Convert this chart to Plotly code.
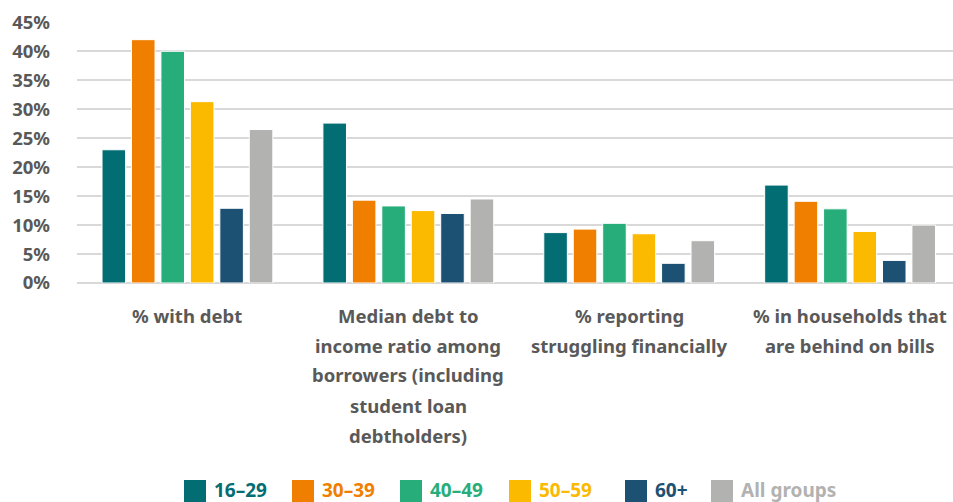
import plotly.graph_objects as go

# Survey categories (line breaks mark how each label wraps)
categories = [
    "% with debt",
    "Median debt to<br>income ratio among<br>borrowers (including<br>student loan<br>debtholders)",
    "% reporting<br>struggling financially",
    "% in households that<br>are behind on bills",
]

age_groups = ["16\u201329", "30\u201339", "40\u201349", "50\u201359", "60+", "All groups"]

# Percent values per age group, one entry per category
values_16_29 = [23.0, 27.6, 8.7, 16.9]
values_30_39 = [42.0, 14.3, 9.3, 14.1]
values_40_49 = [40.0, 13.3, 10.3, 12.8]
values_50_59 = [31.3, 12.5, 8.5, 8.9]
values_60_plus = [12.9, 12.0, 3.4, 3.9]
values_all = [26.5, 14.5, 7.3, 10.0]

series = [values_16_29, values_30_39, values_40_49, values_50_59, values_60_plus, values_all]
colors = ["#036d74", "#f07f00", "#27ad7a", "#fbb900", "#1c5173", "#b2b2b0"]

y_ticks = list(range(0, 50, 5))
y_tick_labels = [f"{t}%" for t in y_ticks]

W, H = 953, 502
M_L, M_R, M_T, M_B = 77, 0, 22, 219
PLOT_H = H - M_T - M_B
TEXT = "#595959"
FONT = "Noto Sans"


def py(pix):
    """Convert a pixel row (from top of page) to paper y."""
    return (H - M_B - pix) / PLOT_H


def px(pix):
    """Convert a pixel column to paper x."""
    return (pix - M_L) / (W - M_L - M_R)


fig = go.Figure()
x_idx = list(range(len(categories)))
for name, vals, col in zip(age_groups, series, colors):
    fig.add_trace(go.Bar(
        x=x_idx, y=vals, name=name,
        marker=dict(color=col, line=dict(color="white", width=1)),
        showlegend=False,
    ))

annotations = []
# Category labels, one annotation per wrapped line
for i, cat in enumerate(categories):
    for k, line in enumerate(cat.split("<br>")):
        annotations.append(dict(
            x=i, xref="x", y=py(315 + 30 * k), yref="paper",
            text=line, showarrow=False, xanchor="center", yanchor="middle",
            font=dict(family=FONT, size=18.5, color=TEXT, weight="bold"),
        ))

# Custom legend: coloured squares with text in matching colour
legend_left = [184, 292, 400, 509, 625, 711]
shapes = []
for name, col, lx in zip(age_groups, colors, legend_left):
    shapes.append(dict(
        type="rect", xref="paper", yref="paper",
        x0=px(lx), x1=px(lx + 22), y0=py(502), y1=py(480),
        fillcolor=col, line=dict(width=0),
    ))
    annotations.append(dict(
        x=px(lx + 28), xref="paper", y=py(490), yref="paper",
        text=name, showarrow=False, xanchor="left", yanchor="middle",
        font=dict(family=FONT, size=19, color=col, weight="bold"),
    ))

fig.update_layout(
    width=W, height=H,
    margin=dict(l=M_L, r=M_R, t=M_T, b=M_B, pad=0),
    paper_bgcolor="white", plot_bgcolor="white",
    barmode="group", bargap=0.2, bargroupgap=0.2,
    font=dict(family=FONT, color=TEXT),
    annotations=annotations, shapes=shapes,
    showlegend=False,
)
fig.update_xaxes(
    range=[-0.5, 3.466], showticklabels=False, showgrid=False,
    zeroline=False, showline=False, ticks="",
)
fig.update_yaxes(
    range=[0, 45.05], tickvals=y_ticks, ticktext=y_tick_labels,
    showgrid=True, gridcolor="#d9d9d9", gridwidth=1.5,
    zeroline=True, zerolinecolor="#d9d9d9", zerolinewidth=1.5,
    showline=False, ticks="", ticklabelstandoff=26,
    tickfont=dict(family=FONT, size=18.5, color=TEXT, weight="bold"),
)

fig.write_html("out.html")
